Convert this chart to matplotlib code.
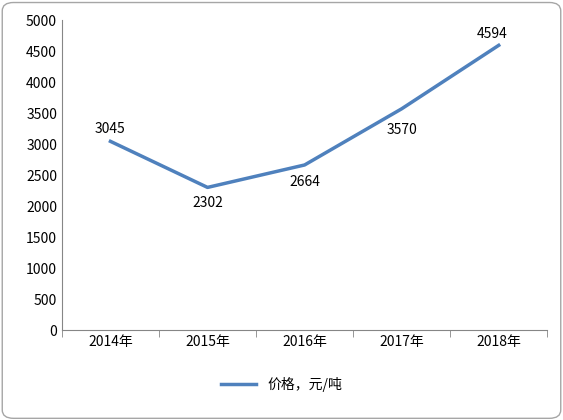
import matplotlib
matplotlib.use("Agg")
import matplotlib.pyplot as plt
from matplotlib.patches import FancyBboxPatch

plt.rcParams['font.family'] = ['Noto Sans CJK SC', 'DejaVu Sans']

years = ["2014年", "2015年", "2016年", "2017年", "2018年"]
prices = [3045, 2302, 2664, 3570, 4594]
series_name = "价格，元/吨"

fig = plt.figure(figsize=(5.63, 4.20), dpi=100)
fig.patches.append(FancyBboxPatch((0.004, 0.004), 0.992, 0.99, boxstyle="round,pad=0,rounding_size=0.02",
                                  transform=fig.transFigure, fill=False, edgecolor="#A6A6A6", linewidth=1))
ax = fig.add_axes([0.110, 0.214, 0.862, 0.738])
x = list(range(len(years)))
ax.plot(x, prices, color="#4F81BD", linewidth=2.5, label=series_name)
offsets = [(0, 9), (0, -11), (0, -12), (0, -15), (-5, 8)]
for xi, v, (dx, dy) in zip(x, prices, offsets):
    ax.annotate(str(v), (xi, v), xytext=(dx, dy), textcoords="offset points",
                ha="center", va="center", fontsize=10)
ax.set_xlim(-0.5, len(years) - 0.5)
ax.set_ylim(0, 5000)
ax.set_yticks(range(0, 5001, 500))
ax.set_xticks(x)
ax.set_xticklabels(years, fontsize=10)
ax.tick_params(axis='y', labelsize=10, length=0)
ax.set_xticks([i + 0.5 for i in range(-1, len(years))], minor=True)
ax.tick_params(axis='x', which='major', length=0)
ax.tick_params(axis='x', which='minor', length=5, color="#868686")
for s in ["top", "right"]:
    ax.spines[s].set_visible(False)
ax.spines["left"].set_color("#868686")
ax.spines["bottom"].set_color("#868686")
fig.legend(loc="center", bbox_to_anchor=(0.5, 0.085), frameon=False, fontsize=10, handlelength=2.5)
fig.savefig("out.png", dpi=100)
